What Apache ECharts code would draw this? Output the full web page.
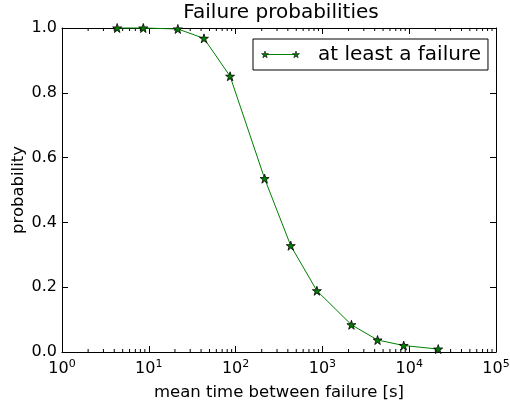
<!DOCTYPE html>
<html>
<head>
<meta charset="utf-8">
<script src="https://cdn.jsdelivr.net/npm/echarts@6/dist/echarts.min.js"></script>
<style>
  html, body { margin: 0; padding: 0; background: #fff; }
  #chart { width: 510px; height: 403px; }
</style>
</head>
<body>
<div id="chart"></div>
<script>
// mean time between failure [s]
const mtbf = [4.32, 8.64, 21.6, 43.2, 86.4, 216, 432, 864, 2160, 4320, 8640, 21600];
// probability of at least a failure
const prob = [1.0, 1.0, 0.997, 0.968, 0.851, 0.535, 0.328, 0.189, 0.084, 0.037, 0.02, 0.009];
const yTicks = [0, 0.2, 0.4, 0.6, 0.8, 1.0];
const decades = [1, 10, 100, 1000, 10000];

// minor ticks of the log axis: 2..9 of each decade
const minorTicks = [];
decades.forEach(function (d) {
  for (let k = 2; k <= 9; k++) minorTicks.push([d * k, 0]);
});

const STAR_PTS = [[50,0],[61.8,36.2],[100,36.2],[69.1,58.6],[80.9,95],[50,72.6],[19.1,95],[30.9,58.6],[0,36.2],[38.2,36.2]];
const STAR = "path://M" + STAR_PTS.map(function (p) { return p[0] + "," + p[1]; }).join(" L") + " Z";
const FONT = "DejaVu Sans";
const GREEN = "#008000";

const chart = echarts.init(document.getElementById("chart"), null, { renderer: "canvas" });

const logAxisBase = {
  type: "log",
  logBase: 10,
  min: 1,
  max: 100000,
  axisLine: { show: true, onZero: false, lineStyle: { color: "#000", width: 1 } },
  axisTick: { show: true, inside: true, length: 6, lineStyle: { color: "#000" } },
  splitLine: { show: false },
  minorTick: { show: false }
};
const valAxisBase = {
  type: "value",
  min: 0,
  max: 1,
  interval: 0.2,
  axisLine: { show: true, onZero: false, lineStyle: { color: "#000", width: 1 } },
  axisTick: { show: true, inside: true, length: 6, lineStyle: { color: "#000" } },
  splitLine: { show: false }
};

// legend marker: a short line with two stars, like matplotlib
function legendStar(cx, cy) {
  const s = 7 / 100;
  return {
    type: "polygon",
    shape: { points: STAR_PTS.map(function (p) { return [cx - 3.5 + p[0] * s, cy - 3.4 + p[1] * s]; }) },
    style: { fill: GREEN, stroke: "#000", lineWidth: 0.6 },
    z: 100
  };
}

const option = {
  backgroundColor: "#fff",
  animation: false,
  textStyle: { fontFamily: FONT },
  title: {
    text: "Failure probabilities",
    left: 281,
    textAlign: "center",
    top: 1,
    padding: 0,
    textStyle: { fontFamily: FONT, fontSize: 20, fontWeight: "normal", color: "#000", lineHeight: 24 }
  },
  grid: { left: 62, top: 28, right: 14, bottom: 51, show: false, containLabel: false, outerBoundsMode: "none" },
  legend: {
    left: 253,
    top: 39,
    padding: [5, 7, 5, 10],
    borderColor: "#000",
    borderWidth: 1,
    borderRadius: 0,
    itemWidth: 34,
    itemHeight: 14,
    itemStyle: { opacity: 0 },
    lineStyle: { opacity: 0 },
    data: ["at least a failure"],
    textStyle: { fontFamily: FONT, fontSize: 20, color: "#000", lineHeight: 21, padding: [0, 0, 0, 15] }
  },
  graphic: [
    {
      type: "line",
      shape: { x1: 265, y1: 54.5, x2: 296, y2: 54.5 },
      style: { stroke: GREEN, lineWidth: 1 },
      z: 99
    },
    legendStar(265, 54.5),
    legendStar(296, 54.5)
  ],
  xAxis: [
    Object.assign({}, logAxisBase, {
      position: "bottom",
      name: "mean time between failure [s]",
      nameLocation: "middle",
      nameGap: 32,
      nameMoveOverlap: false,
      nameTextStyle: { fontFamily: FONT, fontSize: 16.5, color: "#000" },
      axisLabel: {
        margin: 7,
        color: "#000",
        formatter: function (v) {
          const e = Math.round(Math.log10(v));
          return "{b|10}{s|" + e + "}";
        },
        rich: {
          b: { fontFamily: FONT, fontSize: 16, color: "#000" },
          s: { fontFamily: FONT, fontSize: 11, color: "#000", padding: [0, 0, 9, 0] }
        }
      }
    }),
    Object.assign({}, logAxisBase, { position: "top", axisLabel: { show: false } })
  ],
  yAxis: [
    Object.assign({}, valAxisBase, {
      position: "left",
      name: "probability",
      nameLocation: "middle",
      nameGap: 35,
      nameMoveOverlap: false,
      nameTextStyle: { fontFamily: FONT, fontSize: 16.5, color: "#000" },
      axisLabel: {
        margin: 5,
        color: "#000",
        fontFamily: FONT,
        fontSize: 16,
        customValues: yTicks,
        formatter: function (v) { return v.toFixed(1); }
      }
    }),
    Object.assign({}, valAxisBase, { position: "right", axisLabel: { show: false } })
  ],
  series: [
    {
      name: "minor ticks",
      type: "custom",
      xAxisIndex: 0,
      yAxisIndex: 0,
      silent: true,
      clip: false,
      data: minorTicks,
      renderItem: function (params, api) {
        const v = api.value(0);
        const pb = api.coord([v, 0]);
        const pt = api.coord([v, 1]);
        const st = { stroke: "#000", lineWidth: 1 };
        return {
          type: "group",
          children: [
            { type: "line", shape: { x1: pb[0], y1: pb[1], x2: pb[0], y2: pb[1] - 3 }, style: st },
            { type: "line", shape: { x1: pt[0], y1: pt[1], x2: pt[0], y2: pt[1] + 3 }, style: st }
          ]
        };
      }
    },
    {
      name: "at least a failure",
      type: "line",
      xAxisIndex: 0,
      yAxisIndex: 0,
      data: mtbf.map(function (x, i) { return [x, prob[i]]; }),
      symbol: STAR,
      symbolSize: 9,
      showAllSymbol: true,
      clip: false,
      lineStyle: { color: GREEN, width: 1 },
      itemStyle: { color: GREEN, borderColor: "#000", borderWidth: 0.8 }
    }
  ]
};

chart.setOption(option);
</script>
</body>
</html>
